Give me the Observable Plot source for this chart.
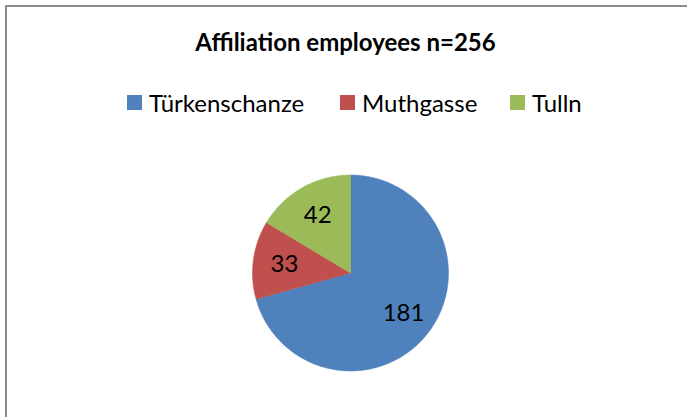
<!DOCTYPE html>
<html>
<head>
<meta charset="utf-8">
<script src="https://cdn.jsdelivr.net/npm/d3@7"></script>
<script src="https://cdn.jsdelivr.net/npm/@observablehq/plot@0.6"></script>
<style>
  html, body { margin: 0; padding: 0; background: #fff; overflow: hidden; }
  body { width: 687px; height: 417px; position: relative; font-family: Lato, "Open Sans", sans-serif; }
  #frame { position: absolute; left: 5px; top: 5px; width: 720px; height: 450px; border: 2px solid #8c8c8c; box-sizing: border-box; }
  #title { position: absolute; left: 0; width: 691px; top: 28px; text-align: center; font-weight: bold; font-size: 24px; color: #000; line-height: 28px; }
  .leg { position: absolute; top: 88px; height: 28px; display: flex; align-items: center; font-size: 24px; color: #000; white-space: nowrap; }
  .sw { width: 15px; height: 15px; margin-right: 7px; }
  #chart { position: absolute; left: 0; top: 0; }
</style>
</head>
<body>
<div id="frame"></div>
<div id="chart"></div>
<div id="title"></div>
<div id="legend"></div>
<script>
const titleText = "Affiliation employees n=256";
const categories = ["Türkenschanze", "Muthgasse", "Tulln"];
const values = [181, 33, 42];
const colors = ["#4F81BD", "#C0504D", "#9BBB59"];
const legendLefts = [127, 340, 510];

document.getElementById("title").textContent = titleText;
const legend = document.getElementById("legend");
categories.forEach((c, i) => {
  const item = document.createElement("div");
  item.className = "leg";
  item.style.left = legendLefts[i] + "px";
  const sw = document.createElement("div");
  sw.className = "sw";
  sw.style.background = colors[i];
  const t = document.createElement("span");
  t.textContent = c;
  item.appendChild(sw);
  item.appendChild(t);
  legend.appendChild(item);
});

const data = categories.map((name, i) => ({name, value: values[i]}));
const arcs = d3.pie().sort(null).value(d => d.value)(data);

const polys = [];
arcs.forEach(a => {
  const name = a.data.name;
  polys.push({name, x: 0, y: 0});
  const n = Math.max(2, Math.ceil((a.endAngle - a.startAngle) / (Math.PI / 180)));
  for (let k = 0; k <= n; k++) {
    const ang = a.startAngle + (a.endAngle - a.startAngle) * k / n;
    polys.push({name, x: Math.sin(ang), y: Math.cos(ang)});
  }
  polys.push({name, x: 0, y: 0});
});

const labels = arcs.map(a => {
  const mid = (a.startAngle + a.endAngle) / 2;
  return {label: String(a.data.value), x: 0.68 * Math.sin(mid), y: 0.68 * Math.cos(mid)};
});

const cx = 350, cy = 272.5, r = 98, W = 687, H = 417;
const plot = Plot.plot({
  width: W,
  height: H,
  marginLeft: cx - r,
  marginRight: W - (cx + r),
  marginTop: cy - r,
  marginBottom: H - (cy + r),
  x: {domain: [-1, 1], axis: null},
  y: {domain: [-1, 1], axis: null},
  color: {domain: categories, range: colors},
  style: {fontFamily: "Lato, 'Open Sans', sans-serif", background: "transparent"},
  marks: [
    Plot.line(polys, {x: "x", y: "y", z: "name", fill: "name", stroke: "name", strokeWidth: 0.5, curve: "linear"}),
    Plot.text(labels, {x: "x", y: "y", text: "label", fontSize: 24, fill: "#000"})
  ]
});
document.getElementById("chart").appendChild(plot);
</script>
</body>
</html>
